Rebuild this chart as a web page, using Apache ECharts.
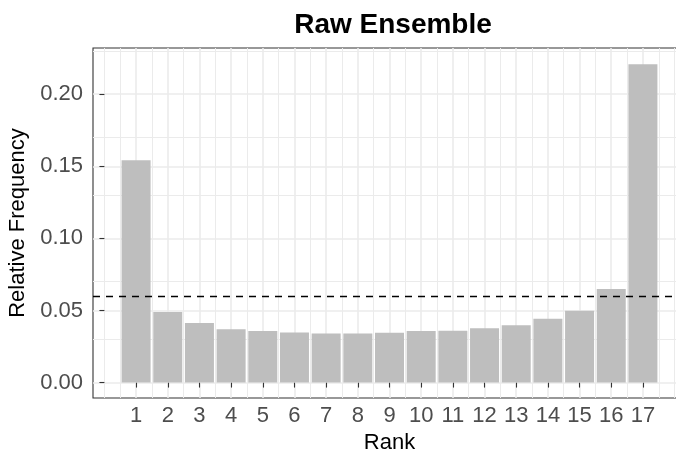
<!DOCTYPE html>
<html>
<head>
<meta charset="utf-8">
<script src="https://cdn.jsdelivr.net/npm/echarts@6/dist/echarts.min.js"></script>
<style>html,body{margin:0;padding:0;background:#fff}#c{width:676px;height:451px}</style>
</head>
<body>
<div id="c"></div>
<script>
var ranks = [1,2,3,4,5,6,7,8,9,10,11,12,13,14,15,16,17];
var freq = [0.1541,0.0490,0.0413,0.0369,0.0357,0.0348,0.0341,0.0341,0.0345,0.0357,0.0359,0.0377,0.0397,0.0443,0.0498,0.0648,0.2207];
var yTicks = [0, 0.05, 0.10, 0.15, 0.20];
var yMinor = [0.025, 0.075, 0.125, 0.175, 0.225];
var xMinor = [0, 0.5,1.5,2.5,3.5,4.5,5.5,6.5,7.5,8.5,9.5,10.5,11.5,12.5,13.5,14.5,15.5,16.5,17.5,18];
var refLine = 1/17;

var FONT = "'Liberation Sans', Arial, sans-serif";
var chart = echarts.init(document.getElementById('c'), null, {renderer:'canvas'});

var gridMajor = [], gridMinor = [];
yTicks.forEach(function(v){ gridMajor.push({yAxis: v}); });
ranks.forEach(function(v){ gridMajor.push({xAxis: v}); });
yMinor.forEach(function(v){ gridMinor.push({yAxis: v}); });
xMinor.forEach(function(v){ gridMinor.push({xAxis: v}); });

chart.setOption({
  animation: false,
  backgroundColor: '#ffffff',
  title: {
    text: 'Raw Ensemble',
    left: 388, top: 6,
    textAlign: 'center',
    textStyle: {fontFamily: FONT, fontWeight: 'bold', fontSize: 28, color: '#000'}
  },
  grid: {
    left: 93, right: -10, top: 48, bottom: 53,
    outerBoundsMode: 'none', containLabel: false,
    show: true, borderColor: '#333333', borderWidth: 1.1, backgroundColor: '#ffffff'
  },
  xAxis: {
    type: 'value', min: -0.36, max: 18.36,
    name: 'Rank', nameLocation: 'middle', nameGap: 34,
    nameTextStyle: {fontFamily: FONT, fontSize: 22, color: '#000'},
    axisLine: {show: false},
    splitLine: {show: false},
    axisTick: {show: true, customValues: ranks, length: 5, lineStyle: {color: '#333333', width: 1.1}},
    axisLabel: {customValues: ranks, margin: 7, fontFamily: FONT, fontSize: 22, color: '#4D4D4D'}
  },
  yAxis: {
    type: 'value', min: -0.0107, max: 0.232,
    name: 'Relative Frequency', nameLocation: 'middle', nameGap: 57,
    nameTextStyle: {fontFamily: FONT, fontSize: 22, color: '#000'},
    axisLine: {show: false},
    splitLine: {show: false},
    axisTick: {show: true, customValues: yTicks, length: 5, lineStyle: {color: '#333333', width: 1.1}},
    axisLabel: {customValues: yTicks, margin: 10, fontFamily: FONT, fontSize: 22, color: '#4D4D4D',
      formatter: function(v){ return v.toFixed(2); }}
  },
  series: [
    {
      type: 'line', data: [], silent: true, z: 0,
      markLine: {silent: true, symbol: 'none', z: 0, label: {show: false},
        lineStyle: {color: '#EBEBEB', width: 1, type: 'solid'}, data: gridMinor}
    },
    {
      type: 'line', data: [], silent: true, z: 0,
      markLine: {silent: true, symbol: 'none', z: 0, label: {show: false},
        lineStyle: {color: '#EBEBEB', width: 1.6, type: 'solid'}, data: gridMajor}
    },
    {
      type: 'bar', z: 2,
      data: ranks.map(function(r, i){ return [r, freq[i]]; }),
      barWidth: 29,
      itemStyle: {color: '#BEBEBE'},
      markLine: {silent: true, symbol: 'none', z: 5, label: {show: false},
        lineStyle: {color: '#000000', width: 1.4, type: [7, 6]},
        data: [{yAxis: refLine}]}
    }
  ]
});
</script>
</body>
</html>
